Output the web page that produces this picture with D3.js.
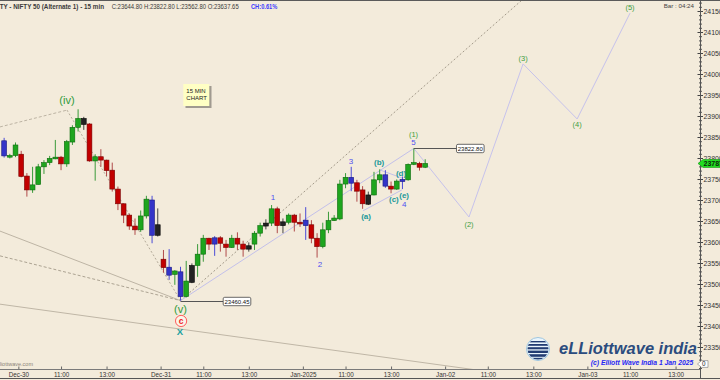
<!DOCTYPE html>
<html><head><meta charset="utf-8">
<script src="https://cdn.jsdelivr.net/npm/d3@7"></script>
<style>
html,body{margin:0;padding:0;background:#f3ebdb;overflow:hidden;}
svg{display:block;}
text{font-family:"Liberation Sans",Arial,sans-serif;}
</style></head><body>
<svg id="c" width="720" height="380"></svg>
<script>
// ---------------- DATA ----------------
const firstBarIndex = -3; // bar index relative to Dec-30 09:15
const candleColor = ["b","g","g",
 "r","r","g","g","g","g","g","r","g","g","g","k","r","g","r","r","r","r","r","r","r","g","g","b","k",
 "r","b","g","b","g","k","g","g","r","b","r","r","g","r","r","k","g","g","k","g","r","k","g","r","r",
 "b","r","r","g","g","g","g","g","b","r","r","k","g","g","b","r","g","b","g","g","r","g"];
const opens = [23841,23802,23806,
 23809,23757,23724,23737,23779,23789,23798,23802,23786,23838,23873,23880,23881,23793,23803,23795,23771,23726,23691,23664,23638,23629,23662,23700,23616,
 23559,23540,23523,23529,23470,23504,23544,23571,23609,23610,23610,23595,23587,23609,23595,23583,23595,23621,23638,23645,23679,23639,23647,23664,23647,
 23652,23641,23609,23589,23629,23651,23655,23738,23754,23741,23724,23690,23712,23748,23760,23733,23726,23749,23748,23785,23787,23778];
const highs = [23848,23810,23837,
 23817,23764,23779,23786,23795,23805,23843,23805,23843,23878,23916,23898,23883,23809,23821,23796,23789,23732,23692,23668,23656,23675,23710,23710,23680,
 23581,23583,23533,23541,23555,23549,23595,23617,23610,23614,23614,23605,23617,23623,23603,23599,23626,23646,23654,23688,23684,23656,23668,23667,23668,
 23683,23652,23621,23646,23672,23664,23748,23764,23779,23748,23733,23720,23767,23773,23771,23744,23749,23756,23787,23822.8,23791,23797];
const lows = [23801,23799,23802,
 23754,23708,23717,23737,23762,23783,23797,23771,23779,23831,23863,23867,23791,23746,23779,23757,23720,23676,23645,23629,23617,23624,23656,23597,23613,
 23527,23510,23498,23460.45,23468,23502,23517,23553,23581,23567,23577,23565,23586,23581,23565,23577,23581,23613,23630,23638,23621,23621,23642,23625,23636,
 23605,23597,23562.8,23585,23621,23650,23652,23728,23721,23696,23679,23688,23711,23740,23729,23716,23724,23726,23746,23783,23770,23776];
const closes = [23805,23806,23831,
 23756,23724,23736,23779,23789,23799,23802,23786,23839,23873,23894,23894,23793,23803,23795,23770,23726,23691,23664,23638,23629,23662,23702,23616,23641,
 23539,23521,23531,23470,23507,23544,23571,23609,23595,23595,23597,23587,23609,23595,23583,23591,23621,23639,23645,23679,23639,23648,23664,23647,23643,
 23639,23609,23589,23629,23651,23657,23738,23754,23740,23721,23691,23712,23748,23760,23733,23726,23745,23744,23785,23789,23778,23787];

const xTickIndex  = [-0.5, 7, 15, 24.5, 32, 40, 49.5, 57, 65, 74.5, 82, 90, 99.5, 107, 115];
const xTickLabels = ["Dec-30","11:00","13:00","Dec-31","11:00","13:00","Jan-2025","11:00","13:00","Jan-02","11:00","13:00","Jan-03","11:00","13:00"];
const yTickValues = [23350,23400,23450,23500,23550,23600,23650,23700,23750,23800,23850,23900,23950,24000,24050,24100,24150];

// wave labels: [text, barIndex, price, style]
const waveLabels = [
 ["(iv)", 8.05, 23937, "gSerif"],
 ["(v)", 28.0, 23441, "gSerif"],
 ["X", 27.9, 23387, "tealX"],
 ["1", 44.25, 23706, "blue"],
 ["2", 52.5, 23548, "blue"],
 ["3", 57.96, 23793, "blue"],
 ["4", 67.3, 23690, "blue"],
 ["5", 68.95, 23838, "blue"],
 ["(1)", 68.95, 23857, "gSans"],
 ["(2)", 78.7, 23643, "gSans"],
 ["(3)", 88.2, 24038, "gSans"],
 ["(4)", 97.7, 23879, "gSans"],
 ["(5)", 107.0, 24159.5, "gSans"],
 ["(a)", 60.6, 23662, "teal"],
 ["(b)", 62.9, 23790.5, "teal"],
 ["(c)", 65.5, 23702, "teal"],
 ["(d)", 66.75, 23764, "teal"],
 ["(e)", 67.3, 23712, "teal"]
];
const circleLabel = ["c", 28.1, 23412];

// lines: points are [barIndex, price]
const greyDashLeft   = [[-3.73, 23874], [8.05, 23914]];
const greyDotIVtoV   = [[8.05, 23914], [28, 23460.45]];
const greySolidToV   = [[-3.73, 23626], [28, 23460.45]];
const greyDashToV    = [[-3.73, 23567], [28, 23460.45]];
const greyDotRise    = [[28, 23460.45], [88.0, 24176]];
const greySolidLong  = [[-3.73, 23452], [85, 23286]];
const lavenderV1     = [[28, 23460.45], [69, 23822.8]];
const triangleLower  = [[60.1, 23674.5], [66.9, 23724]];
const triangleUpper  = [[63.06, 23771.4], [66.93, 23752.4]];
const projection     = [[69, 23822.8], [78.7, 23659.5], [88.2, 24024], [97.7, 23893], [107, 24145]];

// price call-outs: [text, anchorIndex, price, boxLeftIndex]
const priceCallouts = [["23460.45", 28, 23460.45, 35.5], ["23822.80", 69, 23822.8, 76.5]];

const headerTitle = "NIFTY - NIFTY 50 (Alternate 1) - 15 min";
const headerValues = "C:23644.80  H:23822.80  L:23562.80  O:23637.65";
const headerChange = "CH:0.61%";
const lastPrice = 23787;

// ---------------- DRAW ----------------
const svg = d3.select("#c");
svg.append("rect").attr("width",720).attr("height",380).attr("fill","#f3ebdb");

const x = d3.scaleLinear().domain([-3,71]).range([4.13,425.2]);
const y = d3.scaleLinear().domain([23350,24150]).range([347,11]);

const defs = svg.append("defs");
defs.append("clipPath").attr("id","plot").append("rect")
  .attr("x",0).attr("y",1).attr("width",700).attr("height",368);
defs.append("clipPath").attr("id","globe").append("circle")
  .attr("cx",538).attr("cy",349).attr("r",10.5);

svg.append("rect").attr("x",0).attr("y",0).attr("width",720).attr("height",1).attr("fill","#5a5a5a");

const plot = svg.append("g").attr("clip-path","url(#plot)");
const line = d3.line().x(d=>x(d[0])).y(d=>y(d[1]));

function drawLine(pts, stroke, dash, w){
  plot.append("path").attr("d", line(pts)).attr("fill","none")
    .attr("stroke", stroke).attr("stroke-width", w||1)
    .attr("stroke-dasharray", dash||null);
}
drawLine(greySolidLong, "#bfb6a6");
drawLine(greySolidToV, "#bdb4a4");
drawLine(greyDashToV, "#aca392", "3,2");
drawLine(greyDashLeft, "#bdb4a4", "3,2");
drawLine(greyDotIVtoV, "#b3aa99", "2,2");
drawLine(greyDotRise, "#a39a8a", "2,2");
drawLine(lavenderV1, "#c3c0ea");
drawLine(triangleLower, "#c3c0ea");
drawLine(triangleUpper, "#c3c0ea");
drawLine(projection, "#c6c2ec");

// candles
const colors = {
  g:{fill:"#1ea51e", stroke:"#0c6a0c", wick:"#3a9a3a"},
  r:{fill:"#c20000", stroke:"#780000", wick:"#b04a4a"},
  b:{fill:"#3434c8", stroke:"#1a1a80", wick:"#4b4bd6"},
  k:{fill:"#222222", stroke:"#000000", wick:"#444444"}
};
const candles = opens.map((o,k)=>({i:firstBarIndex+k, o:o, h:highs[k], l:lows[k], c:closes[k], col:candleColor[k]}));
const cg = plot.append("g");
cg.selectAll("line.w").data(candles).join("line").attr("class","w")
  .attr("x1",d=>x(d.i)).attr("x2",d=>x(d.i))
  .attr("y1",d=>y(d.h)).attr("y2",d=>y(d.l))
  .attr("stroke",d=>colors[d.col].wick).attr("stroke-width",1);
cg.selectAll("rect.b").data(candles).join("rect").attr("class","b")
  .attr("x",d=>x(d.i)-2.4).attr("width",4.8)
  .attr("y",d=>y(Math.max(d.o,d.c)))
  .attr("height",d=>Math.max(1.2, y(Math.min(d.o,d.c))-y(Math.max(d.o,d.c))))
  .attr("fill",d=>colors[d.col].fill).attr("stroke",d=>colors[d.col].stroke).attr("stroke-width",0.6);

// price callouts
priceCallouts.forEach(([t, ai, p, bi])=>{
  const yy = Math.round(y(p))+0.5;
  plot.append("line").attr("x1",x(ai)).attr("x2",x(bi)).attr("y1",yy).attr("y2",yy)
    .attr("stroke","#555").attr("stroke-width",1);
  plot.append("rect").attr("x",x(bi)).attr("y",yy-4.2).attr("width",27.6).attr("height",8.4)
    .attr("rx",1.5).attr("fill","#ffffff").attr("stroke","#444").attr("stroke-width",0.8);
  plot.append("text").attr("x",x(bi)+13.8).attr("y",yy).attr("dy","0.35em")
    .attr("text-anchor","middle").attr("font-size",6).attr("fill","#111").text(t);
});

// wave labels
const styles = {
  gSerif:{fill:"#2f9a3a", size:11, family:"'Liberation Serif','DejaVu Serif',serif", weight:"normal"},
  gSans:{fill:"#3e9e3e", size:7.5, family:"'Liberation Sans',Arial,sans-serif", weight:"normal"},
  blue:{fill:"#4f4ff0", size:8, family:"'Liberation Sans',Arial,sans-serif", weight:"normal"},
  teal:{fill:"#1a9898", size:8, family:"'Liberation Serif','DejaVu Serif',serif", weight:"bold"},
  tealX:{fill:"#1aa0a0", size:9.5, family:"'Liberation Sans',Arial,sans-serif", weight:"bold"}
};
const lg = plot.append("g");
lg.append("circle").attr("cx",x(circleLabel[1])).attr("cy",y(circleLabel[2])).attr("r",5.6)
  .attr("fill","#fbf4ea").attr("stroke","#ff5a5a").attr("stroke-width",1);
lg.append("text").attr("x",x(circleLabel[1])).attr("y",y(circleLabel[2])).attr("dy","0.32em")
  .attr("text-anchor","middle").attr("font-size",8.5).attr("font-weight","bold")
  .attr("font-family","'Liberation Serif',serif").attr("fill","#ee2020").text(circleLabel[0]);
lg.selectAll("text.wl").data(waveLabels).join("text").attr("class","wl")
  .attr("x",d=>x(d[1])).attr("y",d=>y(d[2])).attr("dy","0.35em")
  .attr("text-anchor","middle")
  .attr("font-size",d=>styles[d[3]].size)
  .attr("font-family",d=>styles[d[3]].family)
  .attr("font-weight",d=>styles[d[3]].weight)
  .attr("fill",d=>styles[d[3]].fill)
  .text(d=>d[0]);

// note box
plot.append("rect").attr("x",185.5).attr("y",86).attr("width",26).attr("height",22).attr("fill","#a09a90");
plot.append("rect").attr("x",183.3).attr("y",84).attr("width",26).attr("height",22).attr("fill","#ffffc4");
plot.append("text").attr("x",186.3).attr("y",93).attr("font-size",6).attr("fill","#222").text("15 MIN");
plot.append("text").attr("x",186.3).attr("y",100).attr("font-size",6).attr("fill","#222").text("CHART");

// header
svg.append("text").attr("x",-10.5).attr("y",8.6).attr("font-size",6.6).attr("font-weight","bold")
  .attr("fill","#3a3a3a").attr("textLength",114.5).attr("lengthAdjust","spacingAndGlyphs").text(headerTitle);
svg.append("text").attr("x",111.7).attr("y",8.6).attr("font-size",6.6)
  .attr("fill","#3a3a3a").attr("textLength",127).attr("lengthAdjust","spacingAndGlyphs")
  .text(headerValues);
svg.append("text").attr("x",251).attr("y",8.6).attr("font-size",6.6).attr("font-weight","bold")
  .attr("fill","#3b3bff").attr("textLength",26.3).attr("lengthAdjust","spacingAndGlyphs").text(headerChange);
svg.append("text").attr("x",694).attr("y",8.2).attr("text-anchor","end").attr("font-size",6.2)
  .attr("fill","#444").text("Bar : 04:24");

// logo
svg.append("circle").attr("cx",538).attr("cy",349).attr("r",11.5).attr("fill","#eaf5fc").attr("stroke","#9fc6de").attr("stroke-width",1);
const gl = svg.append("g").attr("clip-path","url(#globe)");
[[341,1.4],[344,1.8],[347.2,2.1],[350.6,2.4],[354.2,2.6],[357.8,2.4]].forEach(([yy,h])=>{
  gl.append("rect").attr("x",526).attr("y",yy).attr("width",24).attr("height",h).attr("fill","#223c72");
});
svg.append("text").attr("x",559).attr("y",353.8).attr("font-size",16.5).attr("font-weight","bold")
  .attr("font-style","italic").attr("font-family","'DejaVu Sans','Liberation Sans',sans-serif")
  .attr("fill","#2b4c7e").attr("textLength",138).attr("lengthAdjust","spacingAndGlyphs").text("eLLiottwave india");
svg.append("text").attr("x",590.7).attr("y",365.4).attr("font-size",7.2).attr("font-weight","bold")
  .attr("font-style","italic").attr("fill","#2626f5").attr("textLength",102.6)
  .attr("lengthAdjust","spacingAndGlyphs").text("(c) Elliott Wave India 1 Jan 2025");
svg.append("text").attr("x",33).attr("y",366).attr("text-anchor","end").attr("font-size",5.5)
  .attr("fill","#8a8478").text("www.elliottwave.com");

// x axis
const xAxis = d3.axisBottom(x).tickValues(xTickIndex).tickFormat((d,i)=>xTickLabels[i])
  .tickSizeInner(-3).tickSizeOuter(0).tickPadding(3.3);
const gx = svg.append("g").attr("transform","translate(0,369.5)").call(xAxis);
gx.select(".domain").remove();
gx.selectAll(".tick line").attr("stroke","#666");
gx.selectAll(".tick text").attr("font-size",6.3).attr("fill","#333").attr("font-family","'Liberation Sans',Arial,sans-serif");
svg.append("line").attr("x1",0).attr("x2",700.5).attr("y1",369.5).attr("y2",369.5).attr("stroke","#7a7a7a");
svg.append("line").attr("x1",0).attr("x2",720).attr("y1",378.5).attr("y2",378.5).attr("stroke","#555");

// y axis
const minorTicks = d3.range(23300, 24200, 10);
const gyMinor = svg.append("g").attr("transform","translate(699,0)")
  .call(d3.axisRight(y).tickValues(minorTicks).tickSize(3).tickFormat(""));
gyMinor.select(".domain").remove();
gyMinor.selectAll(".tick line").attr("stroke","#555");
const gy = svg.append("g").attr("transform","translate(697.5,0)")
  .call(d3.axisRight(y).tickValues(yTickValues).tickSize(5.5).tickPadding(0.5).tickFormat(d3.format("d")));
gy.select(".domain").remove();
gy.selectAll(".tick line").attr("stroke","#444");
gy.selectAll(".tick text").attr("font-size",6.9).attr("fill","#333").attr("font-family","'Liberation Sans',Arial,sans-serif");
svg.append("line").attr("x1",700.5).attr("x2",700.5).attr("y1",0).attr("y2",379).attr("stroke","#555");

// last price marker
const yl = y(lastPrice);
svg.append("path").attr("d",`M698,${yl} L703,${yl-4} L720,${yl-4} L720,${yl+4} L703,${yl+4} Z`)
  .attr("fill","#22dd22").attr("stroke","#119911").attr("stroke-width",0.6);
svg.append("text").attr("x",703.5).attr("y",yl).attr("dy","0.35em").attr("font-size",7).attr("font-weight","bold")
  .attr("fill","#0a2a0a").text(String(lastPrice));
// zero marker
svg.append("path").attr("d","M697.5,364 L701.5,360.6 L708,360.6 L708,367.4 L701.5,367.4 Z")
  .attr("fill","#ffffff").attr("stroke","#777").attr("stroke-width",0.6);
svg.append("text").attr("x",702).attr("y",364).attr("dy","0.35em").attr("font-size",6.3).attr("fill","#222").text("0");
</script>
</body></html>
